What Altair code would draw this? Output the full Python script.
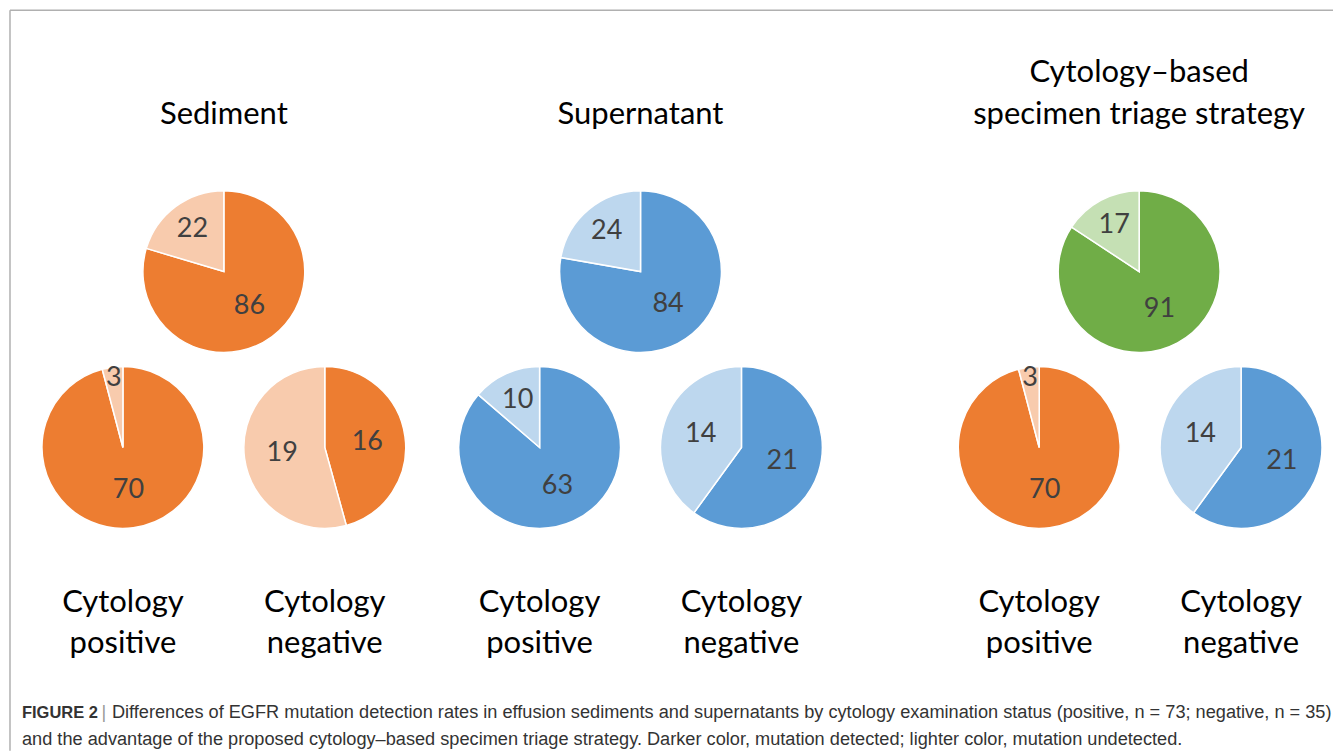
import math
import altair as alt
import pandas as pd

# ---------------- data ----------------
pie_ids = ["sed_all", "sed_pos", "sed_neg",
           "sup_all", "sup_pos", "sup_neg",
           "tri_all", "tri_pos", "tri_neg"]
detected = [86, 70, 16, 84, 63, 21, 91, 70, 21]      # darker colour
undetected = [22, 3, 19, 24, 10, 14, 17, 3, 14]      # lighter colour
pie_palette = ["orange", "orange", "orange",
               "blue", "blue", "blue",
               "green", "orange", "blue"]

panel_titles = ["Sediment", "Supernatant", "Cytology\u2013based", "specimen triage strategy"]
group_line1 = ["Cytology"] * 6
group_line2 = ["positive", "negative"] * 3

caption_bold = "FIGURE 2"
caption_line1 = ("Differences of EGFR mutation detection rates in effusion sediments and supernatants "
                 "by cytology examination status (positive, n = 73; negative, n = 35)")
caption_line2 = ("and the advantage of the proposed cytology\u2013based specimen triage strategy. "
                 "Darker color, mutation detected; lighter color, mutation undetected.")

# ---------------- layout / style ----------------
W, H = 1326, 743
XMIN, XMAX = 8, 8 + W
YMIN, YMAX = 8, 8 + H
R = 81
pie_cx = [224, 123, 325, 641, 540, 742, 1140, 1040, 1242]
pie_cy = [271.5, 447.5, 447.5, 271.5, 447.5, 447.5, 271.5, 447.5, 447.5]
colors = {
    "orange": ("#ED7D31", "#F8CBAD"),
    "blue": ("#5B9BD5", "#BDD7EE"),
    "green": ("#70AD47", "#C5E0B4"),
}
FONT = "Lato"
CAP_FONT = "Liberation Sans"
CAP_SIZE = 18.2
CAP_BOLD_SIZE = 16.5

xs = alt.Scale(domain=[XMIN, XMAX])
ys = alt.Scale(domain=[YMIN, YMAX], reverse=True)

rows = []
for i, pid in enumerate(pie_ids):
    dark, light = colors[pie_palette[i]]
    rows.append(dict(pie=pid, order=0, value=detected[i], fill=dark, cx=pie_cx[i], cy=pie_cy[i]))
    rows.append(dict(pie=pid, order=1, value=undetected[i], fill=light, cx=pie_cx[i], cy=pie_cy[i]))
pie_df = pd.DataFrame(rows)

base = (
    alt.Chart(pie_df)
    .transform_joinaggregate(total="sum(value)", groupby=["pie"])
    .transform_window(cum="sum(value)", groupby=["pie"], sort=[alt.SortField("order")], frame=[None, 0])
    .transform_calculate(
        start="(datum.cum - datum.value) / datum.total",
        end="datum.cum / datum.total",
    )
    .transform_calculate(
        mid="(datum.start + datum.end) / 2",
        frac="datum.value / datum.total",
    )
    .transform_calculate(
        rl="datum.frac < 0.06 ? 0.87 : (datum.frac < 0.3 ? 0.65 : 0.53)",
    )
    .transform_calculate(
        lx=f"datum.cx + datum.rl * {R} * sin(2 * PI * datum.mid)",
        ly=f"datum.cy - datum.rl * {R} * cos(2 * PI * datum.mid)",
    )
)

arcs = base.mark_arc(radius=R, stroke="white", strokeWidth=1.5).encode(
    x=alt.X("cx:Q", scale=xs, axis=None),
    y=alt.Y("cy:Q", scale=ys, axis=None),
    theta=alt.Theta("start:Q", scale=alt.Scale(domain=[0, 1], range=[0, 2 * math.pi]), stack=False),
    theta2="end:Q",
    color=alt.Color("fill:N", scale=None),
)

pie_labels = base.mark_text(font=FONT, fontSize=27, color="#404040", baseline="middle", align="center").encode(
    x=alt.X("lx:Q", scale=xs, axis=None),
    y=alt.Y("ly:Q", scale=ys, axis=None),
    text=alt.Text("value:Q"),
)

# titles
title_df = pd.DataFrame({
    "t": panel_titles,
    "tx": [224, 641, 1140, 1140],
    "ty": [124, 124, 82, 124],
})
titles = alt.Chart(title_df).mark_text(font=FONT, fontSize=31, color="#000000", baseline="alphabetic",
                                       align="center").encode(
    x=alt.X("tx:Q", scale=xs, axis=None),
    y=alt.Y("ty:Q", scale=ys, axis=None),
    text="t:N",
)

grp_x = [123, 325, 540, 742, 1040, 1242]
grp_df = pd.DataFrame({
    "t": group_line1 + group_line2,
    "tx": grp_x + grp_x,
    "ty": [612] * 6 + [653] * 6,
})
groups = alt.Chart(grp_df).mark_text(font=FONT, fontSize=31, color="#000000", baseline="alphabetic",
                                     align="center").encode(
    x=alt.X("tx:Q", scale=xs, axis=None),
    y=alt.Y("ty:Q", scale=ys, axis=None),
    text="t:N",
)

cap_bold = alt.Chart(pd.DataFrame({"t": [caption_bold], "tx": [22], "ty": [718]})).mark_text(
    font=CAP_FONT, fontSize=CAP_BOLD_SIZE, fontWeight="bold", color="#333333", baseline="alphabetic", align="left"
).encode(x=alt.X("tx:Q", scale=xs, axis=None), y=alt.Y("ty:Q", scale=ys, axis=None), text="t:N")

cap_pipe = alt.Chart(pd.DataFrame({"t": ["|"], "tx": [104], "ty": [718]})).mark_text(
    font=CAP_FONT, fontSize=CAP_SIZE, color="#999999", baseline="alphabetic", align="center"
).encode(x=alt.X("tx:Q", scale=xs, axis=None), y=alt.Y("ty:Q", scale=ys, axis=None), text="t:N")

cap_text = alt.Chart(pd.DataFrame({"t": [caption_line1, caption_line2], "tx": [112, 22], "ty": [718, 745]})).mark_text(
    font=CAP_FONT, fontSize=CAP_SIZE, color="#333333", baseline="alphabetic", align="left"
).encode(x=alt.X("tx:Q", scale=xs, axis=None), y=alt.Y("ty:Q", scale=ys, axis=None), text="t:N")

border = alt.Chart(alt.Data(values=[{}])).mark_rule(color="#B0B0B0", strokeWidth=1.5).encode(
    x=alt.value(2), x2=alt.value(W), y=alt.value(2)
)
border2 = alt.Chart(alt.Data(values=[{}])).mark_rule(color="#B0B0B0", strokeWidth=1.5).encode(
    x=alt.value(2), y=alt.value(2), y2=alt.value(H)
)

chart = alt.layer(border, border2, arcs, pie_labels, titles, groups, cap_bold, cap_pipe, cap_text).properties(
    width=W, height=H, padding=0
).configure_view(stroke=None)

chart.save("out.html", embed_options={"renderer": "svg", "actions": False})
